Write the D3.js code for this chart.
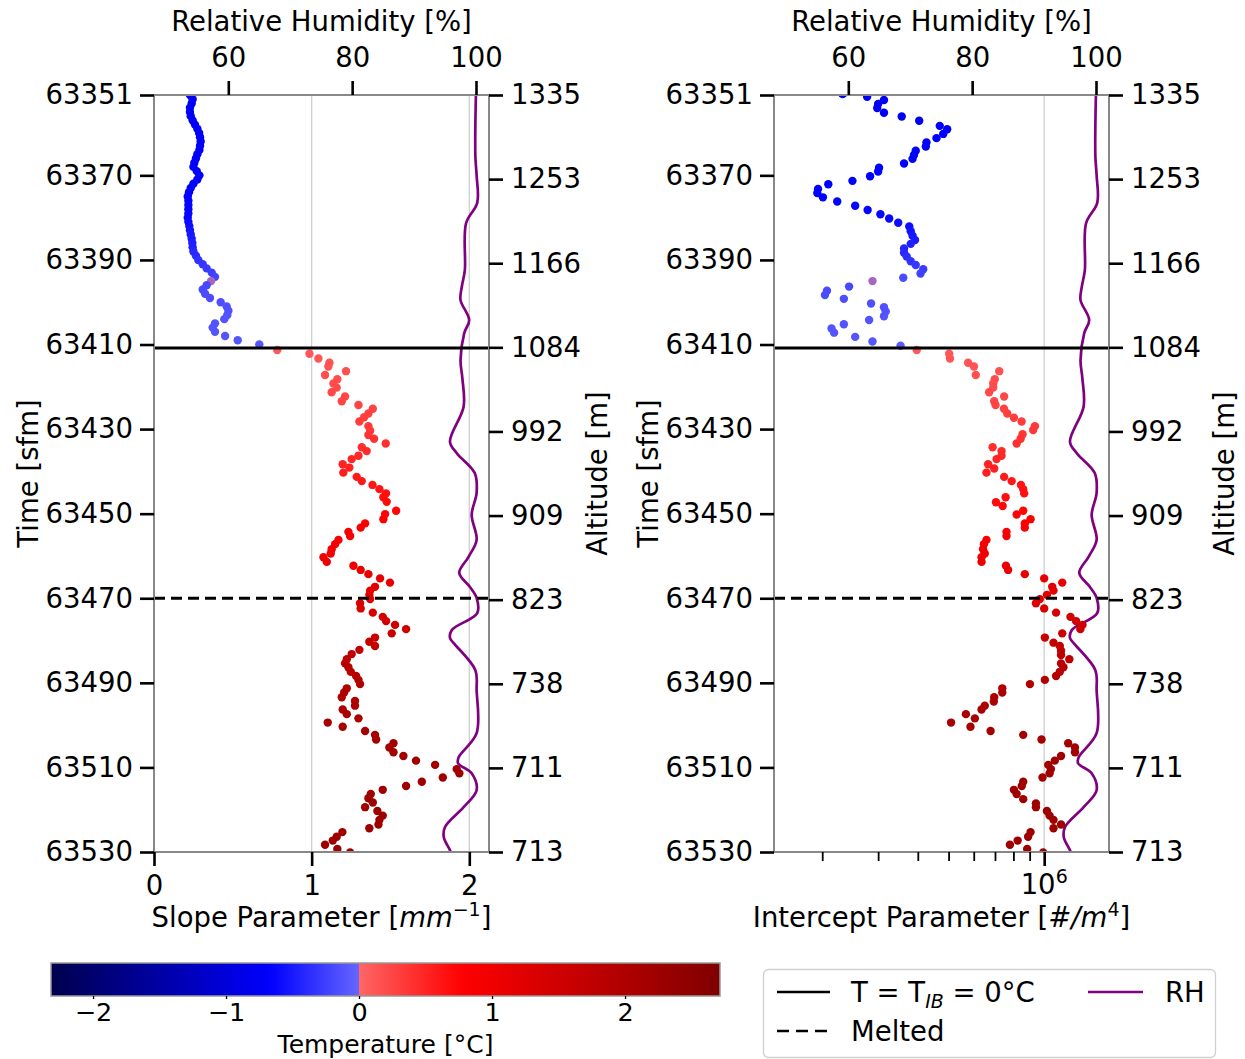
<!DOCTYPE html>
<html><head><meta charset="utf-8">
<script src="https://cdn.jsdelivr.net/npm/d3@7"></script>
<style>
body{margin:0;background:#fff;}
svg text{font-family:"DejaVu Sans",sans-serif;fill:#000;}
</style></head><body>
<script>
// ---------------- DATA ----------------
const yTickValues = [63351,63370,63390,63410,63430,63450,63470,63490,63510,63530];
const altLabels = ['1335','1253','1166','1084','992','909','823','738','711','713'];
const rhTicks = [60,80,100];
const slopeTicks = [0,1,2];
const interceptMajor = [1e6];
const interceptMinor = [2e5,3e5,4e5,5e5,6e5,7e5,8e5,9e5];
const cbarTicks = [-2,-1,0,1,2];
const refLineTimes = [63410.8, 63470]; // T = T_IB = 0°C (solid), Melted (dashed)

// slope parameter [time sfm, mm^-1]
const slopeData = [
[63351,0.228],[63352,0.245],[63353,0.239],[63354,0.228],[63355,0.228],[63356,0.233],[63357,0.245],[63358,0.260],[63359,0.275],[63360,0.286],
[63361,0.292],[63362,0.296],[63363,0.292],[63364,0.288],[63365,0.275],[63366,0.266],[63367,0.256],[63368,0.250],[63369,0.271],[63370,0.288],
[63371,0.275],[63372,0.250],[63373,0.233],[63374,0.222],[63375,0.214],[63376,0.218],[63377,0.218],[63378,0.218],[63379,0.218],[63380,0.214],
[63381,0.218],[63382,0.224],[63383,0.228],[63384,0.233],[63385,0.239],[63386,0.243],[63387,0.245],[63388,0.250],[63389,0.266],[63390,0.281],
[63391,0.309],[63392,0.334],[63393,0.366],[63394,0.387],[63395,0.362],[63396,0.334],[63397,0.309],[63398,0.324],[63399,0.355],[63400,0.423],
[63401,0.461],[63402,0.472],[63403,0.465],[63404,0.446],[63405,0.387],[63406,0.372],[63407,0.387],[63408,0.451],[63409,0.531],[63410,0.668],
[63411.3,0.782],[63412.2,0.986],[63413.3,1.043],[63414.3,1.113],[63415.2,1.106],[63416.3,1.218],[63417.2,1.085],[63418.2,1.163],[63419.2,1.138],[63420.2,1.159],
[63421.3,1.127],[63422.3,1.212],[63423.4,1.191],[63424.3,1.297],[63425.2,1.388],[63426.3,1.360],[63427.2,1.333],[63428.2,1.303],[63429.3,1.360],[63430.4,1.371],
[63431.4,1.360],[63432.3,1.396],[63433.4,1.470],[63434.3,1.318],[63435.2,1.349],[63436.3,1.297],[63437.1,1.254],[63438.3,1.197],[63439.1,1.239],[63440.3,1.201],
[63441.3,1.286],[63442.3,1.318],[63443.2,1.386],[63444.2,1.430],[63445.2,1.472],[63446.1,1.455],[63447.2,1.476],[63449.3,1.536],[63450.1,1.466],[63451.3,1.455],
[63452.3,1.339],[63453.3,1.311],[63454.3,1.233],[63455.3,1.244],[63456.2,1.170],[63457.2,1.149],[63458.4,1.127],[63459.4,1.121],[63460.3,1.075],[63461.4,1.096],
[63462.3,1.265],[63463.3,1.311],[63464.3,1.360],[63465.3,1.434],[63466.3,1.497],[63467.3,1.402],[63468.2,1.371],[63469.2,1.366],[63470.2,1.371],[63471.2,1.307],
[63472.4,1.311],[63473.4,1.388],[63474.4,1.451],[63475.4,1.472],[63476.3,1.529],[63477.3,1.599],[63478.3,1.508],[63479.3,1.402],[63480.3,1.366],[63481.3,1.402],
[63482.2,1.303],[63483.2,1.254],[63484.4,1.223],[63485.4,1.212],[63486.3,1.233],[63487.4,1.248],[63488.4,1.282],[63489.3,1.297],[63490.3,1.307],[63491.3,1.223],
[63492.3,1.206],[63493.4,1.191],[63494.3,1.275],[63495.4,1.275],[63496.3,1.197],[63497.4,1.223],[63498.4,1.297],[63499.4,1.102],[63500.4,1.197],[63501.4,1.339],
[63502.3,1.402],[63503.4,1.409],[63504.3,1.519],[63505.3,1.493],[63506.4,1.519],[63507.3,1.582],[63508.4,1.662],[63509.4,1.783],[63510.4,1.920],[63511.4,1.937],
[63512.4,1.832],[63513.4,1.699],[63514.4,1.599],[63515.3,1.451],[63516.3,1.375],[63517.3,1.360],[63518.3,1.388],[63519.4,1.339],[63520.3,1.417],[63521.4,1.451],
[63522.4,1.430],[63523.5,1.424],[63524.4,1.366],[63525.3,1.195],[63526.4,1.159],[63527.3,1.134],[63528.3,1.085],[63529.3,1.163],[63530.1,1.244]
];

// intercept parameter [time sfm, #/m^4]
const interceptData = [
[63350.8,2.32e5],[63351.4,2.77e5],[63352.2,3.13e5],[63353.1,3.00e5],[63354.1,2.98e5],[63355.2,3.13e5],[63356.1,3.56e5],[63357.1,4.04e5],[63358.3,4.69e5],[63359.1,4.95e5],
[63360.2,4.81e5],[63361.2,4.58e5],[63362.2,4.26e5],[63363.2,4.24e5],[63364.2,3.94e5],[63365.2,3.89e5],[63366.1,3.85e5],[63367.2,3.62e5],[63368.2,3.02e5],[63369.1,3.00e5],
[63370.2,2.83e5],[63371.3,2.49e5],[63372.1,2.09e5],[63373.2,1.94e5],[63374.2,1.93e5],[63375.2,2.01e5],[63376.2,2.23e5],[63377.2,2.54e5],[63378.2,2.78e5],[63379.2,3.05e5],
[63380.2,3.25e5],[63381.2,3.47e5],[63382.1,3.76e5],[63383.2,3.80e5],[63384.3,3.85e5],[63385.3,3.92e5],[63386.2,3.80e5],[63387.3,3.62e5],[63388.3,3.62e5],[63389.2,3.69e5],
[63390.3,3.80e5],[63391.2,3.94e5],[63392.2,4.16e5],[63393.2,4.08e5],[63394.2,3.60e5],[63395,2.88e5],[63396.3,2.43e5],[63397.3,2.07e5],[63398.3,2.04e5],[63399.2,2.34e5],
[63400.3,2.85e5],[63401.2,3.13e5],[63402.2,3.17e5],[63403.3,3.13e5],[63404.2,2.81e5],[63405.2,2.34e5],[63406.2,2.14e5],[63407.2,2.18e5],[63408.2,2.54e5],[63409.3,2.88e5],
[63410.3,3.53e5],[63411.3,3.97e5],[63412.2,5.02e5],[63413.3,5.05e5],[63414.3,5.76e5],[63415.2,6.01e5],[63416.3,7.22e5],[63417.2,6.09e5],[63418.2,6.99e5],[63419.2,6.91e5],
[63420.2,6.91e5],[63421.3,6.71e5],[63422.3,7.48e5],[63423.4,6.96e5],[63424.3,7.03e5],[63425.2,7.47e5],[63426.3,7.65e5],[63427.3,8.03e5],[63428.2,8.49e5],[63429.3,9.35e5],
[63430.2,9.23e5],[63431.2,8.55e5],[63432.3,8.43e5],[63433.4,8.19e5],[63434.3,6.88e5],[63435.2,7.34e5],[63436.3,7.34e5],[63437.1,7.08e5],[63438.3,6.66e5],[63439.3,6.96e5],
[63440.3,6.58e5],[63441.3,7.48e5],[63442.3,7.90e5],[63443.2,8.45e5],[63444.2,8.59e5],[63445.2,8.65e5],[63446.1,7.56e5],[63447.3,7.05e5],[63448.2,7.40e5],[63449.3,8.59e5],
[63450.2,8.19e5],[63451.3,9.06e5],[63452.3,8.69e5],[63453.3,8.69e5],[63454.3,7.61e5],[63455.3,7.61e5],[63456.2,6.58e5],[63457.2,6.46e5],[63458.4,6.42e5],[63459.4,6.50e5],
[63460.3,6.35e5],[63461.4,6.35e5],[63462.3,7.58e5],[63463.3,7.70e5],[63464.3,8.69e5],[63465.3,1.00e6],[63466.3,1.14e6],[63467.3,1.06e6],[63468.2,1.07e6],[63469.2,1.02e6],
[63470.2,9.69e5],[63471.2,9.42e5],[63472.4,1.00e6],[63473.4,1.09e6],[63474.4,1.21e6],[63475.4,1.26e6],[63476.3,1.32e6],[63477.3,1.30e6],[63478.3,1.14e6],[63479.3,1.005e6],
[63480.5,1.07e6],[63481.3,1.12e6],[63482.4,1.13e6],[63483.4,1.13e6],[63484.4,1.20e6],[63485.4,1.13e6],[63486.3,1.15e6],[63487.4,1.12e6],[63488.4,1.09e6],[63489.3,1.005e6],
[63490.3,9.02e5],[63491.3,7.38e5],[63492.3,7.38e5],[63493.4,6.96e5],[63494.4,6.94e5],[63495.4,6.50e5],[63496.3,6.35e5],[63497.4,5.67e5],[63498.4,6.05e5],[63499.4,5.09e5],
[63500.4,5.86e5],[63501.4,6.78e5],[63502.3,8.59e5],[63503.4,9.81e5],[63504.3,1.19e6],[63505.3,1.25e6],[63506.4,1.25e6],[63507.3,1.13e6],[63508.4,1.08e6],[63509.4,1.03e6],
[63510.4,1.05e6],[63511.4,1.04e6],[63512.4,9.88e5],[63513.4,8.59e5],[63514.4,8.5e5],[63515.3,8.03e5],[63516.3,8.19e5],[63517.5,8.59e5],[63518.5,9.42e5],[63519.4,9.42e5],
[63520.3,1.02e6],[63521.4,1.04e6],[63522.4,1.07e6],[63523.5,1.13e6],[63524.4,1.07e6],[63525.3,9.06e5],[63526.4,8.90e5],[63527.3,8.25e5],[63528.3,7.80e5],[63529.3,8.84e5],
[63530.1,9.93e5]
];

// relative humidity profile [time sfm, %]
const rhProfile = [
[63350,100.0],[63358,99.9],[63365.6,99.9],[63370,100.1],[63376.5,100.2],[63381.3,98.4],[63392.4,98.2],[63396.4,97.7],[63399.5,97.5],[63404.2,98.9],
[63407.3,98.1],[63413.7,97.5],[63418,97.8],[63424.7,98.0],[63433.0,95.8],[63435.7,96.9],[63440.4,99.8],[63445.1,100.1],[63450.3,99.3],[63456.2,100.1],
[63460.2,98.8],[63464.0,97.3],[63467.3,99.0],[63469.9,100.1],[63473.5,100.2],[63477.5,96.1],[63479.4,95.8],[63480.6,96.4],[63487.0,99.9],[63491.7,100.1],
[63501.9,100.1],[63507.6,97.2],[63509.0,97.1],[63511.4,99.3],[63515.4,100.1],[63519.4,98.0],[63524.1,95.0],[63526.5,94.8],[63529.6,95.8],[63531,96.1]
];

// temperature profile [time sfm, °C] used to colour points
const tempProfile = [
[63350,-0.78],[63360,-0.72],[63370,-0.68],[63380,-0.62],[63385,-0.5],[63390,-0.35],[63394,-0.22],[63395,0],[63396,-0.2],[63400,-0.15],
[63405,-0.12],[63410.2,-0.1],[63411,0.1],[63415,0.15],[63420,0.2],[63430,0.35],[63440,0.55],[63450,0.75],[63460,1.0],[63470,1.25],
[63480,1.65],[63490,1.95],[63500,2.12],[63510,2.22],[63520,2.25],[63531,2.25]
];

// ---------------- DRAWING ----------------
const W = 1245, H = 1059, FS = 27.5, FS_SUP = 19;
const FONT = '"DejaVu Sans", sans-serif';
const svg = d3.select('body').append('svg').attr('width', W).attr('height', H);
const Y0 = 95, Y1 = 852;

const yTime = d3.scaleLinear().domain([63351, 63530]).range([Y0, Y1]);
const yAltPos = d3.scaleLinear().domain([0, altLabels.length - 1]).range([Y0, Y1]);
const tempAt = d3.scaleLinear().domain(tempProfile.map(d => d[0])).range(tempProfile.map(d => d[1])).clamp(true);

const TMIN = -2.316, TMAX = 2.714;
const coldScale = d3.scaleLinear().domain([TMIN, -0.662, 0]).range(['#00004d', '#0000ff', '#6666ff']);
const warmScale = d3.scaleLinear().domain([0, 0.775, TMAX]).range(['#ff6666', '#ff0000', '#800000']);
function tColor(T) {
  if (T === 0) return d3.interpolateRgb('#6666ff', '#ff6666')(0.42);
  return T < 0 ? coldScale(T) : warmScale(T);
}

function styleAxis(g, w, fs) {
  g.select('.domain').remove();
  g.attr('font-size', null).attr('font-family', null);
  g.selectAll('.tick line').attr('stroke', '#000').attr('stroke-width', w || 2.6);
  g.selectAll('.tick text').attr('font-size', fs || FS).attr('font-family', FONT).attr('fill', '#000');
}

function panel(cfg) {
  const { id, x0, x1, xScale, data, altLabelX } = cfg;
  const g = svg.append('g');
  const rhX = d3.scaleLinear().domain([48.0, 102.1]).range([x0, x1]);

  svg.append('clipPath').attr('id', 'clip' + id).append('rect')
    .attr('x', x0).attr('y', Y0).attr('width', x1 - x0).attr('height', Y1 - Y0);

  g.selectAll('line.grid').data(cfg.gridVals).enter().append('line').attr('class', 'grid')
    .attr('x1', d => xScale(d)).attr('x2', d => xScale(d)).attr('y1', Y0).attr('y2', Y1)
    .attr('stroke', '#cfcfcf').attr('stroke-width', 1.3);

  const plot = g.append('g').attr('clip-path', `url(#clip${id})`);
  plot.append('path').datum(rhProfile)
    .attr('d', d3.line().x(d => rhX(d[1])).y(d => yTime(d[0])).curve(d3.curveCatmullRom))
    .attr('fill', 'none').attr('stroke', '#800080').attr('stroke-width', 2.7);

  plot.selectAll('circle').data(data).enter().append('circle')
    .attr('cx', d => xScale(d[1])).attr('cy', d => yTime(d[0])).attr('r', 4.2)
    .attr('fill', d => tColor(tempAt(d[0])));

  plot.selectAll('line.ref').data(refLineTimes).enter().append('line').attr('class', 'ref')
    .attr('x1', x0).attr('x2', x1).attr('y1', d => yTime(d)).attr('y2', d => yTime(d))
    .attr('stroke', '#000').attr('stroke-width', 3)
    .attr('stroke-dasharray', (d, i) => i === 1 ? '11,6' : null);

  g.append('rect').attr('x', x0).attr('y', Y0).attr('width', x1 - x0).attr('height', Y1 - Y0)
    .attr('fill', 'none').attr('stroke', '#888').attr('stroke-width', 2);

  g.append('g').attr('transform', `translate(${x0},0)`)
    .call(d3.axisLeft(yTime).tickValues(yTickValues).tickFormat(d3.format('d')).tickSize(14).tickPadding(7))
    .call(a => styleAxis(a));
  g.append('g').attr('transform', `translate(${x1},0)`)
    .call(d3.axisRight(yAltPos).tickValues(d3.range(altLabels.length)).tickFormat(i => altLabels[i]).tickSize(14).tickPadding(8))
    .call(a => styleAxis(a));
  g.append('g').attr('transform', `translate(0,${Y0})`)
    .call(d3.axisTop(rhX).tickValues(rhTicks).tickFormat(d3.format('d')).tickSize(14).tickPadding(14))
    .call(a => styleAxis(a));
  cfg.bottomAxis(g);

  const cx = (x0 + x1) / 2;
  g.append('text').attr('x', cx).attr('y', 31).attr('text-anchor', 'middle').attr('font-size', FS).text('Relative Humidity [%]');
  cfg.bottomLabel(g.append('text').attr('x', cx).attr('y', 927).attr('text-anchor', 'middle').attr('font-size', FS));
  g.append('text').attr('transform', `translate(${x0 - 126},${(Y0 + Y1) / 2}) rotate(-90)`).attr('dy', '0.35em')
    .attr('text-anchor', 'middle').attr('font-size', FS).text('Time [sfm]');
  g.append('text').attr('transform', `translate(${altLabelX},${(Y0 + Y1) / 2}) rotate(-90)`).attr('dy', '0.35em')
    .attr('text-anchor', 'middle').attr('font-size', FS).text('Altitude [m]');
}

// Left panel: slope parameter
const slopeX = d3.scaleLinear().domain([0, 2.125]).range([154, 489]);
panel({
  id: 'L', x0: 154, x1: 489, xScale: slopeX, data: slopeData, gridVals: slopeTicks, altLabelX: 597,
  bottomAxis: g => g.append('g').attr('transform', `translate(0,${Y1})`)
    .call(d3.axisBottom(slopeX).tickValues(slopeTicks).tickFormat(d3.format('d')).tickSize(14).tickPadding(9))
    .call(a => styleAxis(a)),
  bottomLabel: t => {
    t.append('tspan').text('Slope Parameter [');
    t.append('tspan').attr('font-style', 'italic').text('mm');
    t.append('tspan').attr('dy', -11).attr('font-size', FS_SUP).text('\u22121');
    t.append('tspan').attr('dy', 11).text(']');
  }
});

// Right panel: intercept parameter (log)
const interceptX = d3.scaleLog().domain([1.41e5, 1.6e6]).range([774, 1109]);
panel({
  id: 'R', x0: 774, x1: 1109, xScale: interceptX, data: interceptData, gridVals: interceptMajor, altLabelX: 1224,
  bottomAxis: g => {
    g.append('g').attr('transform', `translate(0,${Y1})`)
      .call(d3.axisBottom(interceptX).tickValues(interceptMinor).tickFormat('').tickSize(9))
      .call(a => styleAxis(a, 1.8));
    g.append('g').attr('transform', `translate(0,${Y1})`)
      .call(d3.axisBottom(interceptX).tickValues(interceptMajor).tickFormat('').tickSize(14))
      .call(a => styleAxis(a));
    interceptMajor.forEach(v => {
      const e = Math.round(Math.log10(v));
      const t = g.append('text').attr('x', interceptX(v)).attr('y', 894).attr('text-anchor', 'middle').attr('font-size', FS);
      t.append('tspan').text('10');
      t.append('tspan').attr('dy', -11).attr('font-size', FS_SUP).text(String(e));
    });
  },
  bottomLabel: t => {
    t.append('tspan').text('Intercept Parameter [');
    t.append('tspan').attr('font-style', 'italic').text('#/m');
    t.append('tspan').attr('dy', -11).attr('font-size', FS_SUP).text('4');
    t.append('tspan').attr('dy', 11).text(']');
  }
});

// ---------------- COLORBAR ----------------
const cbX = d3.scaleLinear().domain([TMIN, TMAX]).range([51, 720]);
const defs = svg.append('defs');
const grad = defs.append('linearGradient').attr('id', 'cbgrad').attr('x1', '0%').attr('x2', '100%').attr('y1', '0%').attr('y2', '0%');
const stops = [];
d3.range(0, 41).forEach(i => { const T = TMIN + (0 - TMIN) * i / 40; stops.push([T, coldScale(T)]); });
d3.range(0, 41).forEach(i => { const T = TMAX * i / 40; stops.push([T, warmScale(T)]); });
stops.forEach(([T, c]) => grad.append('stop').attr('offset', ((T - TMIN) / (TMAX - TMIN) * 100) + '%').attr('stop-color', c));
svg.append('rect').attr('x', 51).attr('y', 963).attr('width', 669).attr('height', 33)
  .attr('fill', 'url(#cbgrad)').attr('stroke', '#999').attr('stroke-width', 1.5);
svg.append('g').attr('transform', 'translate(0,996)')
  .call(d3.axisBottom(cbX).tickValues(cbarTicks).tickFormat(d => d < 0 ? '\u2212' + Math.abs(d) : String(d)).tickSize(3).tickPadding(4))
  .call(a => styleAxis(a, 1.3, 25.5));
svg.append('text').attr('x', 385.5).attr('y', 1053).attr('text-anchor', 'middle').attr('font-size', 25).text('Temperature [°C]');

// ---------------- LEGEND ----------------
const lg = svg.append('g');
lg.append('rect').attr('x', 763.5).attr('y', 969.5).attr('width', 452).attr('height', 88).attr('rx', 5)
  .attr('fill', '#fff').attr('stroke', '#d0d0d0').attr('stroke-width', 1.3);
lg.append('line').attr('x1', 777).attr('x2', 830).attr('y1', 992).attr('y2', 992).attr('stroke', '#000').attr('stroke-width', 2.7);
lg.append('line').attr('x1', 777).attr('x2', 830).attr('y1', 1031).attr('y2', 1031).attr('stroke', '#000').attr('stroke-width', 2.7).attr('stroke-dasharray', '12,7');
lg.append('line').attr('x1', 1088).attr('x2', 1143).attr('y1', 992).attr('y2', 992).attr('stroke', '#800080').attr('stroke-width', 2.7);
const t1 = lg.append('text').attr('x', 851).attr('y', 1002).attr('font-size', FS);
t1.append('tspan').text('T = T');
t1.append('tspan').attr('dy', 6).attr('font-size', FS_SUP).attr('font-style', 'italic').text('IB');
t1.append('tspan').attr('dy', -6).text(' = 0°C');
lg.append('text').attr('x', 1165).attr('y', 1002).attr('font-size', FS).text('RH');
lg.append('text').attr('x', 851).attr('y', 1041).attr('font-size', FS).text('Melted');
</script>
</body></html>
